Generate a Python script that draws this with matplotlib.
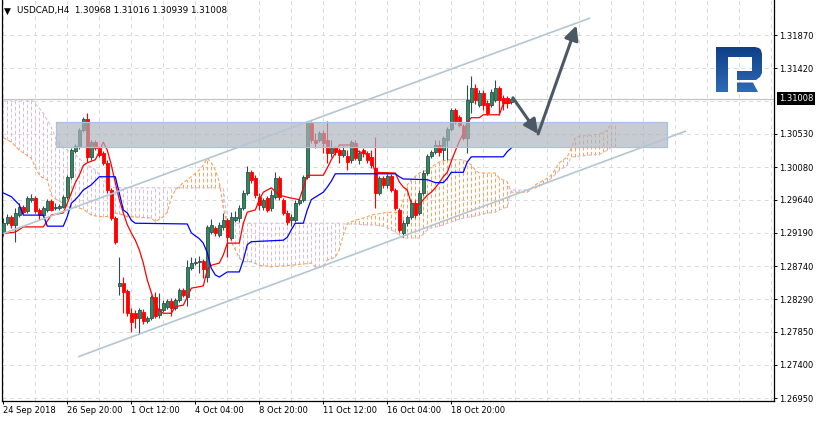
import numpy as np
import matplotlib
matplotlib.use("Agg")
import matplotlib.pyplot as plt
from matplotlib.patches import Rectangle, Polygon
from matplotlib.colors import LinearSegmentedColormap

# ---- USDCAD H4 candles, bars numbered from the left edge of the chart ----
opens = [
    1.2919, 1.2932, 1.2941, 1.2930, 1.2943, 1.2954, 1.2949, 1.2964,
    1.2966, 1.2950, 1.2943, 1.2950, 1.2962, 1.2953, 1.2953, 1.2954,
    1.2968, 1.2995, 1.3030, 1.3035, 1.3058, 1.3073, 1.3022, 1.3042,
    1.3034, 1.3027, 1.3014, 1.2977, 1.2939, 1.2847, 1.2851, 1.2840,
    1.2810, 1.2810, 1.2804, 1.2812, 1.2800, 1.2804, 1.2832, 1.2808,
    1.2814, 1.2819, 1.2827, 1.2817, 1.2828, 1.2842, 1.2832, 1.2871,
    1.2878, 1.2880, 1.2881, 1.2859, 1.2920, 1.2926, 1.2916, 1.2927,
    1.2936, 1.2912, 1.2936, 1.2939, 1.2953, 1.2973, 1.3001, 1.2993,
    1.2968, 1.2954, 1.2966, 1.2953, 1.2968, 1.2993, 1.2964, 1.2946,
    1.2936, 1.2936, 1.2959, 1.2964, 1.2995, 1.3068, 1.3045, 1.3045,
    1.3054, 1.3045, 1.3027, 1.3034, 1.3031, 1.3025, 1.3023, 1.3018,
    1.3041, 1.3018, 1.3031, 1.3027, 1.3022, 1.3007, 1.2973, 1.2993,
    1.2984, 1.2996, 1.2977, 1.2950, 1.2919, 1.2932, 1.2941, 1.2959,
    1.2946, 1.2973, 1.3000, 1.3023, 1.3029, 1.3038, 1.3031, 1.3045,
    1.3060, 1.3085, 1.3076, 1.3064, 1.3048, 1.3096, 1.3115, 1.3092,
    1.3108, 1.3095, 1.3092, 1.3099, 1.3115, 1.3102, 1.3102, 1.30968,
]
highs = [
    1.2939, 1.2945, 1.2943, 1.2953, 1.2959, 1.2957, 1.2969, 1.2972,
    1.2969, 1.2953, 1.2955, 1.2965, 1.2965, 1.2959, 1.2958, 1.2970,
    1.2997, 1.3034, 1.3039, 1.3061, 1.3076, 1.3081, 1.3045, 1.3045,
    1.3037, 1.3030, 1.3018, 1.2980, 1.2942, 1.2886, 1.2859, 1.2843,
    1.2817, 1.2814, 1.2817, 1.2816, 1.2806, 1.2835, 1.2839, 1.2838,
    1.2828, 1.2829, 1.2831, 1.2831, 1.2844, 1.2844, 1.2882, 1.2886,
    1.2885, 1.2888, 1.2884, 1.2930, 1.2938, 1.2928, 1.2934, 1.2946,
    1.2939, 1.2947, 1.2949, 1.2957, 1.2977, 1.3010, 1.3004, 1.2997,
    1.2973, 1.2966, 1.2969, 1.2977, 1.3001, 1.2996, 1.2966, 1.2950,
    1.2945, 1.2964, 1.2966, 1.2997, 1.3071, 1.3071, 1.3054, 1.3057,
    1.3058, 1.3071, 1.3045, 1.3037, 1.3034, 1.3037, 1.3031, 1.3045,
    1.3045, 1.3031, 1.3034, 1.3030, 1.3031, 1.3049, 1.2996, 1.2996,
    1.2999, 1.2999, 1.2980, 1.2953, 1.2936, 1.2943, 1.2964, 1.2964,
    1.2977, 1.3004, 1.3026, 1.3031, 1.3045, 1.3045, 1.3050, 1.3062,
    1.3088, 1.3088, 1.3079, 1.3067, 1.3119, 1.3131, 1.3121, 1.3112,
    1.3112, 1.3099, 1.3114, 1.3126, 1.3118, 1.3106, 1.3104, 1.31016,
]
lows = [
    1.2915, 1.2930, 1.2926, 1.2907, 1.2941, 1.2945, 1.2946, 1.2961,
    1.2946, 1.2936, 1.2941, 1.2947, 1.2949, 1.2950, 1.2950, 1.2953,
    1.2965, 1.2992, 1.3027, 1.3033, 1.3056, 1.3015, 1.3018, 1.3031,
    1.3022, 1.3011, 1.2973, 1.2936, 1.2904, 1.2835, 1.2810, 1.2806,
    1.2785, 1.2790, 1.2782, 1.2796, 1.2797, 1.2801, 1.2804, 1.2804,
    1.2812, 1.2816, 1.2806, 1.2814, 1.2825, 1.2832, 1.2820, 1.2869,
    1.2875, 1.2865, 1.2858, 1.2852, 1.2918, 1.2915, 1.2913, 1.2923,
    1.2886, 1.2909, 1.2934, 1.2934, 1.2950, 1.2970, 1.2987, 1.2966,
    1.2950, 1.2950, 1.2947, 1.2949, 1.2965, 1.2964, 1.2943, 1.2930,
    1.2928, 1.2934, 1.2957, 1.2961, 1.2992, 1.3041, 1.3034, 1.3042,
    1.3027, 1.3014, 1.3022, 1.3025, 1.3014, 1.3022, 1.3004, 1.3014,
    1.3018, 1.3012, 1.3022, 1.3014, 1.3007, 1.2953, 1.2970, 1.2980,
    1.2980, 1.2974, 1.2950, 1.2920, 1.2913, 1.2928, 1.2938, 1.2939,
    1.2943, 1.2970, 1.2997, 1.3020, 1.3026, 1.3023, 1.3018, 1.3018,
    1.3057, 1.3067, 1.3062, 1.3045, 1.3027, 1.3081, 1.3094, 1.3090,
    1.3085, 1.3079, 1.3090, 1.3096, 1.3079, 1.3085, 1.3088, 1.30939,
]
closes = [
    1.2932, 1.2941, 1.2930, 1.2946, 1.2954, 1.2947, 1.2966, 1.2966,
    1.2949, 1.2943, 1.2953, 1.2962, 1.2950, 1.2954, 1.2955, 1.2968,
    1.2995, 1.3031, 1.3037, 1.3058, 1.3073, 1.3022, 1.3042, 1.3034,
    1.3025, 1.3014, 1.2977, 1.2939, 1.2907, 1.2851, 1.2839, 1.2810,
    1.2798, 1.2804, 1.2814, 1.2800, 1.2804, 1.2832, 1.2806, 1.2816,
    1.2824, 1.2827, 1.2817, 1.2828, 1.2842, 1.2835, 1.2873, 1.2878,
    1.2880, 1.2881, 1.2870, 1.2927, 1.2930, 1.2919, 1.2930, 1.2936,
    1.2913, 1.2941, 1.2941, 1.2953, 1.2973, 1.3001, 1.2991, 1.2970,
    1.2957, 1.2964, 1.2950, 1.2970, 1.2993, 1.2968, 1.2946, 1.2934,
    1.2941, 1.2959, 1.2964, 1.2995, 1.3068, 1.3045, 1.3041, 1.3054,
    1.3041, 1.3027, 1.3034, 1.3029, 1.3025, 1.3031, 1.3015, 1.3042,
    1.3020, 1.3027, 1.3027, 1.3018, 1.3011, 1.2973, 1.2993, 1.2984,
    1.2996, 1.2977, 1.2953, 1.2923, 1.2932, 1.2941, 1.2959, 1.2943,
    1.2973, 1.3000, 1.3023, 1.3029, 1.3038, 1.3029, 1.3048, 1.3060,
    1.3085, 1.3069, 1.3065, 1.3048, 1.3099, 1.3115, 1.3099, 1.3108,
    1.3092, 1.3081, 1.3110, 1.3115, 1.3099, 1.3095, 1.3095, 1.31008,
]

# ---- Ichimoku lines (bar index, price) ----
tenkan_i = [0, 3, 5, 10, 12, 15, 16, 17, 18, 19, 20, 21, 23, 24, 25, 26, 27, 28,
            29, 30, 31, 32, 33, 34, 35, 36, 37, 38, 39, 40, 42, 43, 45, 46, 47,
            50, 51, 52, 54, 55, 56, 59, 60, 61, 63, 64, 65, 67, 69, 72, 74, 75,
            76, 80, 81, 82, 83, 84, 87, 88, 91, 92, 93, 98, 99, 100, 101, 102,
            104, 105, 106, 107, 108, 109, 110, 111, 112, 113, 114, 115, 116,
            117, 119, 120, 124, 125, 127]
tenkan = [1.2918, 1.2920, 1.2927, 1.2927, 1.2943, 1.2946, 1.2959, 1.2973, 1.2987,
          1.2997, 1.3010, 1.3014, 1.3018, 1.3029, 1.3042, 1.3031, 1.3011, 1.2987,
          1.2964, 1.2946, 1.2930, 1.2919, 1.2909, 1.2896, 1.2878, 1.2855, 1.2838,
          1.2821, 1.2814, 1.2810, 1.2810, 1.2819, 1.2821, 1.2832, 1.2844, 1.2847,
          1.2869, 1.2875, 1.2878, 1.2889, 1.2905, 1.2905, 1.2932, 1.2947, 1.2950,
          1.2964, 1.2974, 1.2980, 1.2970, 1.2966, 1.2964, 1.2980, 1.2997, 1.2997,
          1.3007, 1.3018, 1.3027, 1.3038, 1.3038, 1.3031, 1.3025, 1.3018, 1.3001,
          1.3000, 1.2988, 1.2981, 1.2977, 1.2959, 1.2957, 1.2964, 1.2970, 1.2974,
          1.2980, 1.2987, 1.2995, 1.3001, 1.3016, 1.3030, 1.3043, 1.3054, 1.3069,
          1.3075, 1.3075, 1.3079, 1.3079, 1.3094, 1.3095]

kijun_i = [0, 2, 4, 5, 10, 11, 15, 16, 17, 18, 19, 20, 22, 24, 28, 29, 30, 31, 32,
           33, 46, 47, 49, 50, 51, 52, 53, 54, 56, 59, 60, 61, 62, 70, 71, 72, 73,
           75, 76, 77, 80, 81, 82, 83, 98, 99, 100, 106, 108, 110, 111, 112, 115,
           116, 117, 125, 126, 127]
kijun = [1.2973, 1.2968, 1.2957, 1.2943, 1.2943, 1.2928, 1.2928, 1.2941, 1.2959,
         1.2964, 1.2970, 1.2977, 1.2984, 1.2995, 1.2995, 1.2973, 1.2950, 1.2946,
         1.2936, 1.2932, 1.2931, 1.2919, 1.2911, 1.2905, 1.2892, 1.2871, 1.2862,
         1.2859, 1.2866, 1.2866, 1.2882, 1.2903, 1.2907, 1.2909, 1.2913, 1.2923,
         1.2932, 1.2932, 1.2950, 1.2964, 1.2974, 1.2981, 1.2989, 1.2999, 1.2999,
         1.2995, 1.2992, 1.2991, 1.2987, 1.2987, 1.2993, 1.3001, 1.3001, 1.3015,
         1.3022, 1.3022, 1.3029, 1.3034]

# senkou spans (shifted 26 bars ahead), both read at the same bar positions
span_i = [0, 2, 4, 7, 8, 9, 10, 11, 12, 13, 14, 15, 16, 18, 20, 21, 22, 23, 24, 25,
          27, 28, 30, 31, 32, 37, 38, 40, 41, 42, 43, 45, 46, 47, 49, 50, 51, 52,
          53, 54, 55, 56, 57, 59, 60, 62, 64, 67, 72, 77, 78, 80, 81, 83, 84, 85,
          86, 88, 90, 92, 95, 97, 98, 99, 100, 101, 102, 104, 106, 107, 109, 111,
          112, 115, 117, 118, 119, 121, 123, 124, 126, 127, 131, 133, 134, 136,
          137, 139, 141, 142, 143, 144, 148, 149, 151, 152, 153]
span_a = [1.3048, 1.3042, 1.3031, 1.3020, 1.3008, 1.2997, 1.2993, 1.2991, 1.2970,
          1.2965, 1.2962, 1.2959, 1.2954, 1.2954, 1.2951, 1.2947, 1.2943, 1.2942,
          1.2941, 1.2941, 1.2941, 1.2946, 1.2943, 1.2941, 1.2941, 1.2939, 1.2934,
          1.2941, 1.2947, 1.2966, 1.2977, 1.2987, 1.2991, 1.2995, 1.3004, 1.3011,
          1.3020, 1.3014, 1.3004, 1.2988, 1.2953, 1.2930, 1.2907, 1.2885, 1.2880,
          1.2880, 1.2875, 1.2873, 1.2875, 1.2878, 1.2873, 1.2873, 1.2882, 1.2886,
          1.2896, 1.2916, 1.2932, 1.2936, 1.2939, 1.2943, 1.2946, 1.2947, 1.2947,
          1.2946, 1.2964, 1.2984, 1.2991, 1.3000, 1.3004, 1.3008, 1.3015, 1.3018,
          1.3018, 1.3018, 1.3011, 1.3004, 1.3000, 1.3000, 1.3000, 1.2993, 1.2988,
          1.2974, 1.2974, 1.2984, 1.2987, 1.2993, 1.2997, 1.3014, 1.3022, 1.3034,
          1.3048, 1.3050, 1.3052, 1.3053, 1.3058, 1.3068, 1.3069]
span_b = [1.3099, 1.3099, 1.3099, 1.3099, 1.3094, 1.3088, 1.3081, 1.3072, 1.3062,
          1.3049, 1.3041, 1.3035, 1.3031, 1.3025, 1.3015, 1.3011, 1.3008, 1.3004,
          1.2997, 1.2991, 1.2981, 1.2980, 1.2980, 1.2980, 1.2980, 1.2980, 1.2980,
          1.2980, 1.2980, 1.2980, 1.2980, 1.2980, 1.2980, 1.2980, 1.2980, 1.2980,
          1.2980, 1.2980, 1.2980, 1.2980, 1.2980, 1.2932, 1.2932, 1.2932, 1.2932,
          1.2932, 1.2932, 1.2932, 1.2932, 1.2932, 1.2932, 1.2932, 1.2932, 1.2932,
          1.2932, 1.2931, 1.2931, 1.2931, 1.2930, 1.2930, 1.2928, 1.2923, 1.2920,
          1.2916, 1.2912, 1.2912, 1.2912, 1.2912, 1.2923, 1.2926, 1.2928, 1.2932,
          1.2934, 1.2939, 1.2941, 1.2942, 1.2943, 1.2946, 1.2947, 1.2950, 1.2954,
          1.2977, 1.2977, 1.2980, 1.2982, 1.2988, 1.2993, 1.3004, 1.3011, 1.3022,
          1.3022, 1.3023, 1.3025, 1.3025, 1.3031, 1.3035, 1.3035]

# axis labels
ytick_vals = [1.31870, 1.31420, 1.30530, 1.30080, 1.29640, 1.29190, 1.28740,
              1.28290, 1.27850, 1.27400, 1.26950]
hidden_tick = 1.30975  # label covered by the price tag
xtick_pos = [0, 16, 32, 48, 64, 80, 96, 112]
xtick_labels = ["24 Sep 2018", "26 Sep 20:00", "1 Oct 12:00", "4 Oct 04:00",
                "8 Oct 20:00", "11 Oct 12:00", "16 Oct 04:00", "18 Oct 20:00"]
last_price = 1.31008
header = "USDCAD,H4  1.30968 1.31016 1.30939 1.31008"

# drawn objects: channel, zone, forecast arrows
chan_upper = ([0, 146.7], [1.2918, 1.3210])
chan_lower = ([18.7, 170.7], [1.2751, 1.3057])
zone_x = (13.2, 165.9)
zone_y = (1.3035, 1.3069)
arrow_path = [(127.4, 1.3102), (133.7, 1.3053), (143.3, 1.3200)]

plt.rcParams['font.family'] = ['DejaVu Sans']

W, H = 817, 422
fig = plt.figure(figsize=(W / 100, H / 100), dpi=100)
ax = fig.add_axes([2 / W, 21 / H, 772 / W, 401 / H])
ax.set_xlim(-0.325, 192.675)
ax.set_ylim(1.26911, 1.32345)

# grid
grid_kw = dict(color='#d9d9d9', lw=0.7, linestyle=(0, (4, 4)), zorder=0)
for v in ytick_vals + [hidden_tick]:
    ax.axhline(v, **grid_kw)
for g in range(0, 193, 8):
    ax.axvline(g, **grid_kw)
ax.axhline(last_price, color='#c0c0c0', lw=0.8, zorder=0.5)

# kumo hatch
sa = np.array(span_a)
sb = np.array(span_b)
cols = np.arange(span_i[0], span_i[-1] + 1)
a_col = np.interp(cols, span_i, sa)
b_col = np.interp(cols, span_i, sb)
up = a_col >= b_col
hatch_ls = (0, (3.8, 2.4))
ax.vlines(cols[up], b_col[up], a_col[up], colors='#f4a460', lw=0.7,
          linestyles=hatch_ls, zorder=1)
ax.vlines(cols[~up], a_col[~up], b_col[~up], colors='#d8bfd8', lw=0.7,
          linestyles=hatch_ls, zorder=1)
ax.plot(span_i, sa, color='#f4a460', lw=0.8, ls=(0, (3, 2)), zorder=1.5)
ax.plot(span_i, sb, color='#d8bfd8', lw=0.8, ls=(0, (3, 2)), zorder=1.5)

# candles
o = np.array(opens)
h = np.array(highs)
l = np.array(lows)
c = np.array(closes)
idx = np.arange(len(o))
bull = c >= o
ax.vlines(idx[bull], l[bull], h[bull], color='#2f4f4f', lw=0.8, zorder=3)
ax.vlines(idx[~bull], l[~bull], h[~bull], color='#ff0000', lw=0.8, zorder=3)
ax.bar(idx[bull], np.maximum((c - o)[bull], 0.00003), bottom=o[bull], width=0.62,
       color='#2e8b57', edgecolor='#2f4f4f', lw=0.6, zorder=3.5)
ax.bar(idx[~bull], (o - c)[~bull], bottom=c[~bull], width=0.62,
       color='#ff0000', edgecolor='#ff0000', lw=0.6, zorder=3.5)

# tenkan / kijun
ax.plot(tenkan_i, tenkan, color='#ff0000', lw=0.9, zorder=4)
ax.plot(kijun_i, kijun, color='#0000ff', lw=0.9, zorder=4)

# support / resistance zone
ax.add_patch(Rectangle((zone_x[0], zone_y[0]), zone_x[1] - zone_x[0],
                       zone_y[1] - zone_y[0], fc='#adb4bd', ec='none',
                       alpha=0.68, zorder=5))
ax.add_patch(Rectangle((zone_x[0], zone_y[0]), zone_x[1] - zone_x[0],
                       zone_y[1] - zone_y[0], fill=False, ec='#a6c3e6',
                       lw=0.9, zorder=5.1))

# channel
ax.plot(*chan_upper, color='#b4c6d4', lw=1.2, zorder=6, solid_capstyle='butt')
ax.plot(*chan_lower, color='#b4c6d4', lw=1.2, zorder=6, solid_capstyle='butt')

# forecast arrows
arr = dict(arrowstyle='-|>,head_length=0.85,head_width=0.42', color='#4b5966',
           lw=2.2, shrinkA=0, shrinkB=0)
for p0, p1 in zip(arrow_path[:-1], arrow_path[1:]):
    ax.annotate('', xy=p1, xytext=p0, arrowprops=arr, zorder=7)

# axes styling
for s in ['left', 'right', 'bottom']:
    ax.spines[s].set_color('black')
    ax.spines[s].set_linewidth(0.9)
ax.spines['top'].set_visible(False)
ax.yaxis.tick_right()
ax.set_yticks(ytick_vals, [f"{v:.5f}" for v in ytick_vals])
ax.set_xticks(xtick_pos, xtick_labels)
for t in ax.get_xticklabels():
    t.set_ha('left')
ax.tick_params(axis='both', direction='out', length=2.3, width=0.7,
               labelsize=6, pad=1.5, colors='black')
ax.tick_params(axis='x', pad=1.0)

ax.annotate(f"{last_price:.5f}", xy=(1, last_price),
            xycoords=('axes fraction', 'data'), xytext=(3.4, 0),
            textcoords='offset points', ha='left', va='center', fontsize=6,
            color='white', zorder=8, annotation_clip=False,
            bbox=dict(boxstyle='square,pad=0.25', fc='black', ec='none'))

# header
fig.text(4 / W, 1 - 11 / H, "\u25bc", fontsize=6.5, va='center', ha='left')
fig.text(17 / W, 1 - 11 / H, header, fontsize=6.3, va='center', ha='left')

# logo in pixel space
lax = fig.add_axes([0, 0, 1, 1], zorder=10)
lax.set_xlim(0, W)
lax.set_ylim(H, 0)
lax.axis('off')
lax.patch.set_alpha(0)
body = Polygon([(716, 47), (755, 47), (759, 48), (761, 50), (762, 54), (762, 73),
                (760, 77), (756, 80), (737, 80), (737, 71), (752, 71), (752, 57),
                (728, 57), (728, 92), (716, 92)], closed=True, fc='none', ec='none')
leg = Polygon([(737, 82.5), (753, 82.5), (758, 92), (737, 92)], closed=True,
              fc='none', ec='none')
grad = np.linspace(0, 1, 64).reshape(-1, 1)
logo_cmap = LinearSegmentedColormap.from_list('logo', ['#0e3f86', '#2d6cb6'])
for poly in (body, leg):
    lax.add_patch(poly)
    im = lax.imshow(grad, cmap=logo_cmap, extent=(716, 762, 92, 47),
                    aspect='auto', interpolation='bilinear', zorder=11)
    im.set_clip_path(poly)
lax.set_xlim(0, W)
lax.set_ylim(H, 0)

fig.savefig("out.png", dpi=100)
